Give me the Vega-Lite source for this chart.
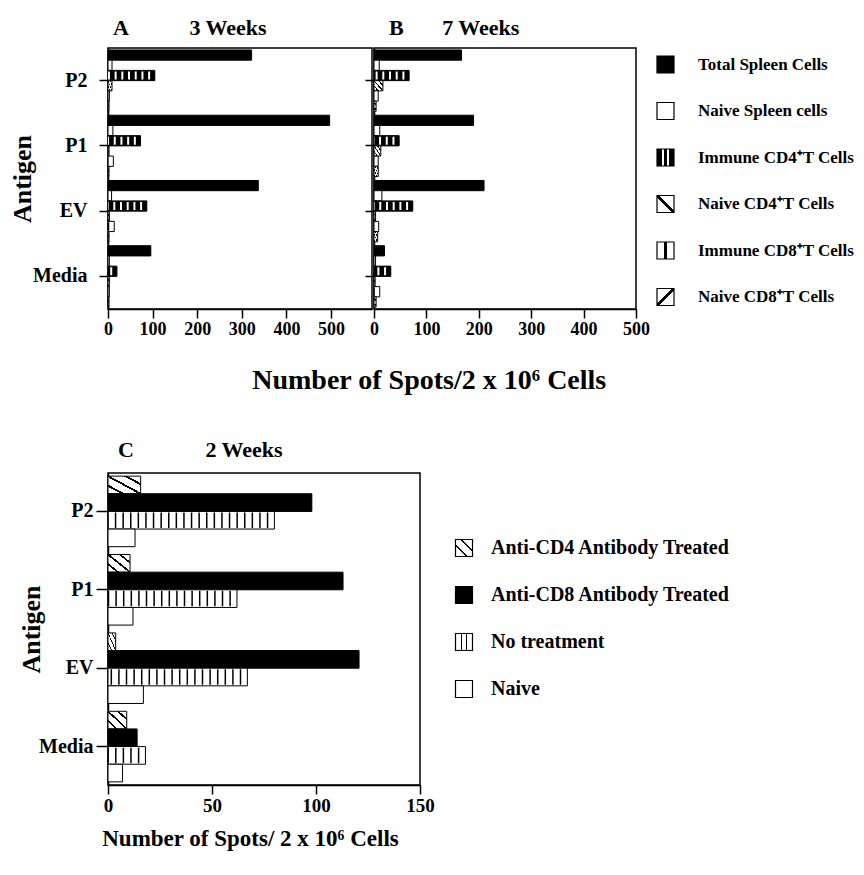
{
  "$schema": "https://vega.github.io/schema/vega-lite/v6.json",
  "padding": {"left": 8, "top": 16, "right": 5, "bottom": 5},
  "background": "white",
  "config": {
    "font": "Liberation Serif",
    "view": {"stroke": "black", "strokeWidth": 1.5},
    "axis": {"labelFont": "Liberation Serif", "titleFont": "Liberation Serif", "labelFontWeight": "bold", "titleFontWeight": "bold", "labelColor": "black", "titleColor": "black", "domainColor": "black", "tickColor": "black", "domainWidth": 1.5, "tickWidth": 1.5, "grid": false, "labelFlush": false, "labelOverlap": false},
    "legend": {"labelFont": "Liberation Serif", "labelFontWeight": "bold", "labelColor": "black"},
    "title": {"font": "Liberation Serif", "fontWeight": "bold", "color": "black"}
  },
  "datasets": {
    "top": [
      {"panel": "A", "antigen": "P2", "series": "Total Spleen Cells", "v": 322},
      {"panel": "A", "antigen": "P2", "series": "Naive Spleen cells", "v": 9},
      {"panel": "A", "antigen": "P2", "series": "Immune CD4\u207aT Cells", "v": 105},
      {"panel": "A", "antigen": "P2", "series": "Naive CD4\u207aT Cells", "v": 9},
      {"panel": "A", "antigen": "P2", "series": "Immune CD8\u207aT Cells", "v": 3},
      {"panel": "A", "antigen": "P2", "series": "Naive CD8\u207aT Cells", "v": 2},
      {"panel": "A", "antigen": "P1", "series": "Total Spleen Cells", "v": 497},
      {"panel": "A", "antigen": "P1", "series": "Naive Spleen cells", "v": 11},
      {"panel": "A", "antigen": "P1", "series": "Immune CD4\u207aT Cells", "v": 73},
      {"panel": "A", "antigen": "P1", "series": "Naive CD4\u207aT Cells", "v": 2},
      {"panel": "A", "antigen": "P1", "series": "Immune CD8\u207aT Cells", "v": 12},
      {"panel": "A", "antigen": "P1", "series": "Naive CD8\u207aT Cells", "v": 2},
      {"panel": "A", "antigen": "EV", "series": "Total Spleen Cells", "v": 337},
      {"panel": "A", "antigen": "EV", "series": "Naive Spleen cells", "v": 8},
      {"panel": "A", "antigen": "EV", "series": "Immune CD4\u207aT Cells", "v": 87},
      {"panel": "A", "antigen": "EV", "series": "Naive CD4\u207aT Cells", "v": 3},
      {"panel": "A", "antigen": "EV", "series": "Immune CD8\u207aT Cells", "v": 14},
      {"panel": "A", "antigen": "EV", "series": "Naive CD8\u207aT Cells", "v": 2},
      {"panel": "A", "antigen": "Media", "series": "Total Spleen Cells", "v": 96},
      {"panel": "A", "antigen": "Media", "series": "Naive Spleen cells", "v": 3},
      {"panel": "A", "antigen": "Media", "series": "Immune CD4\u207aT Cells", "v": 20},
      {"panel": "A", "antigen": "Media", "series": "Naive CD4\u207aT Cells", "v": 3},
      {"panel": "A", "antigen": "Media", "series": "Immune CD8\u207aT Cells", "v": 3},
      {"panel": "A", "antigen": "Media", "series": "Naive CD8\u207aT Cells", "v": 2},
      {"panel": "B", "antigen": "P2", "series": "Total Spleen Cells", "v": 167},
      {"panel": "B", "antigen": "P2", "series": "Naive Spleen cells", "v": 10},
      {"panel": "B", "antigen": "P2", "series": "Immune CD4\u207aT Cells", "v": 67},
      {"panel": "B", "antigen": "P2", "series": "Naive CD4\u207aT Cells", "v": 17},
      {"panel": "B", "antigen": "P2", "series": "Immune CD8\u207aT Cells", "v": 8},
      {"panel": "B", "antigen": "P2", "series": "Naive CD8\u207aT Cells", "v": 4},
      {"panel": "B", "antigen": "P1", "series": "Total Spleen Cells", "v": 190},
      {"panel": "B", "antigen": "P1", "series": "Naive Spleen cells", "v": 11},
      {"panel": "B", "antigen": "P1", "series": "Immune CD4\u207aT Cells", "v": 48},
      {"panel": "B", "antigen": "P1", "series": "Naive CD4\u207aT Cells", "v": 13},
      {"panel": "B", "antigen": "P1", "series": "Immune CD8\u207aT Cells", "v": 8},
      {"panel": "B", "antigen": "P1", "series": "Naive CD8\u207aT Cells", "v": 8},
      {"panel": "B", "antigen": "EV", "series": "Total Spleen Cells", "v": 210},
      {"panel": "B", "antigen": "EV", "series": "Naive Spleen cells", "v": 15},
      {"panel": "B", "antigen": "EV", "series": "Immune CD4\u207aT Cells", "v": 74},
      {"panel": "B", "antigen": "EV", "series": "Naive CD4\u207aT Cells", "v": 3},
      {"panel": "B", "antigen": "EV", "series": "Immune CD8\u207aT Cells", "v": 9},
      {"panel": "B", "antigen": "EV", "series": "Naive CD8\u207aT Cells", "v": 7},
      {"panel": "B", "antigen": "Media", "series": "Total Spleen Cells", "v": 20},
      {"panel": "B", "antigen": "Media", "series": "Naive Spleen cells", "v": 3},
      {"panel": "B", "antigen": "Media", "series": "Immune CD4\u207aT Cells", "v": 32},
      {"panel": "B", "antigen": "Media", "series": "Naive CD4\u207aT Cells", "v": 2},
      {"panel": "B", "antigen": "Media", "series": "Immune CD8\u207aT Cells", "v": 11},
      {"panel": "B", "antigen": "Media", "series": "Naive CD8\u207aT Cells", "v": 4}
    ],
    "bottom": [
      {"antigen": "P2", "series": "Anti-CD4 Antibody Treated", "v": 15.7},
      {"antigen": "P2", "series": "Anti-CD8 Antibody Treated", "v": 98},
      {"antigen": "P2", "series": "No treatment", "v": 80},
      {"antigen": "P2", "series": "Naive", "v": 13},
      {"antigen": "P1", "series": "Anti-CD4 Antibody Treated", "v": 10.6},
      {"antigen": "P1", "series": "Anti-CD8 Antibody Treated", "v": 113},
      {"antigen": "P1", "series": "No treatment", "v": 62},
      {"antigen": "P1", "series": "Naive", "v": 12},
      {"antigen": "EV", "series": "Anti-CD4 Antibody Treated", "v": 3.7},
      {"antigen": "EV", "series": "Anti-CD8 Antibody Treated", "v": 120.7},
      {"antigen": "EV", "series": "No treatment", "v": 67},
      {"antigen": "EV", "series": "Naive", "v": 17},
      {"antigen": "Media", "series": "Anti-CD4 Antibody Treated", "v": 9},
      {"antigen": "Media", "series": "Anti-CD8 Antibody Treated", "v": 14},
      {"antigen": "Media", "series": "No treatment", "v": 18},
      {"antigen": "Media", "series": "Naive", "v": 7}
    ]
  },
  "spacing": 42,
  "resolve": {"scale": {"x": "independent", "y": "independent", "yOffset": "independent", "fill": "independent"}, "legend": {"fill": "independent"}, "axis": {"x": "independent", "y": "independent"}},
  "vconcat": [
    {
      "title": {"text": "Number of Spots/2 x 10\u2076 Cells", "orient": "bottom", "anchor": "start", "frame": "bounds", "dx": 244, "offset": 28, "fontSize": 28},
      "hconcat": [
        {
          "width": 264, "height": 261,
          "title": {"text": "A\u00a0\u00a0\u00a0\u00a0\u00a0\u00a0\u00a0\u00a0\u00a0\u00a0\u00a03 Weeks", "anchor": "start", "frame": "group", "dx": 5, "offset": -14, "baseline": "bottom", "fontSize": 22},
          "data": {"name": "top"},
          "transform": [{"filter": "datum.panel === 'A'"}],
          "encoding": {
            "y": {"field": "antigen", "type": "nominal", "scale": {"domain": ["P2", "P1", "EV", "Media"], "paddingInner": 0.06, "paddingOuter": 0.03},
                  "axis": {"title": "Antigen", "titleFontSize": 26, "titleX": -86, "titleY": 130.5, "titleAngle": 270, "titleBaseline": "middle", "titleAlign": "center", "labelFontSize": 20, "tickSize": 9, "labelPadding": 12}},
            "yOffset": {"field": "series", "type": "nominal", "scale": {"domain": ["Total Spleen Cells", "Naive Spleen cells", "Immune CD4\u207aT Cells", "Naive CD4\u207aT Cells", "Immune CD8\u207aT Cells", "Naive CD8\u207aT Cells"], "paddingInner": 0, "paddingOuter": 0}},
            "x": {"field": "v", "type": "quantitative", "scale": {"domain": [0, 592], "nice": false}, "axis": {"values": [0, 100, 200, 300, 400, 500], "title": null, "labelFontSize": 18, "tickSize": 9, "labelPadding": 2}}
          },
          "layer": [
            {
              "mark": {"type": "bar", "stroke": "black", "strokeWidth": 1},
              "encoding": {
                "fill": {"field": "series", "type": "nominal",
                  "scale": {"domain": ["Total Spleen Cells", "Naive Spleen cells", "Immune CD4\u207aT Cells", "Naive CD4\u207aT Cells", "Immune CD8\u207aT Cells", "Naive CD8\u207aT Cells"],
                    "range": ["black", "white",
                      {"expr": "{gradient:'linear',x1:0,y1:0,x2:1,y2:0,stops:[{offset:0,color:'black'},{offset:0.3,color:'black'},{offset:0.3,color:'white'},{offset:0.42,color:'white'},{offset:0.42,color:'black'},{offset:0.58,color:'black'},{offset:0.58,color:'white'},{offset:0.7,color:'white'},{offset:0.7,color:'black'},{offset:1,color:'black'}]}"},
                      {"expr": "{gradient:'linear',x1:0,y1:1,x2:1,y2:0,stops:[{offset:0,color:'white'},{offset:0.45,color:'white'},{offset:0.45,color:'black'},{offset:0.55,color:'black'},{offset:0.55,color:'white'},{offset:1,color:'white'}]}"},
                      {"expr": "{gradient:'linear',x1:0,y1:0,x2:1,y2:0,stops:[{offset:0,color:'white'},{offset:0.44,color:'white'},{offset:0.44,color:'black'},{offset:0.56,color:'black'},{offset:0.56,color:'white'},{offset:1,color:'white'}]}"},
                      {"expr": "{gradient:'linear',x1:0,y1:0,x2:1,y2:1,stops:[{offset:0,color:'white'},{offset:0.45,color:'white'},{offset:0.45,color:'black'},{offset:0.55,color:'black'},{offset:0.55,color:'white'},{offset:1,color:'white'}]}"}
                    ]},
                  "condition": [
                    {"test": "datum.series === 'Immune CD4\u207aT Cells'", "value": "black"},
                    {"test": "datum.series === 'Immune CD8\u207aT Cells'", "value": "white"},
                    {"test": "datum.series === 'Naive CD4\u207aT Cells'", "value": {"gradient": "linear", "x1": 0, "y1": 1, "x2": 1, "y2": 0, "stops": [{"offset": 0, "color": "white"}, {"offset": 0.2, "color": "white"}, {"offset": 0.2, "color": "black"}, {"offset": 0.28, "color": "black"}, {"offset": 0.28, "color": "white"}, {"offset": 0.46, "color": "white"}, {"offset": 0.46, "color": "black"}, {"offset": 0.54, "color": "black"}, {"offset": 0.54, "color": "white"}, {"offset": 0.72, "color": "white"}, {"offset": 0.72, "color": "black"}, {"offset": 0.8, "color": "black"}, {"offset": 0.8, "color": "white"}, {"offset": 1, "color": "white"}]}},
                    {"test": "datum.series === 'Naive CD8\u207aT Cells'", "value": {"gradient": "linear", "x1": 0, "y1": 0, "x2": 1, "y2": 1, "stops": [{"offset": 0, "color": "white"}, {"offset": 0.2, "color": "white"}, {"offset": 0.2, "color": "black"}, {"offset": 0.28, "color": "black"}, {"offset": 0.28, "color": "white"}, {"offset": 0.46, "color": "white"}, {"offset": 0.46, "color": "black"}, {"offset": 0.54, "color": "black"}, {"offset": 0.54, "color": "white"}, {"offset": 0.72, "color": "white"}, {"offset": 0.72, "color": "black"}, {"offset": 0.8, "color": "black"}, {"offset": 0.8, "color": "white"}, {"offset": 1, "color": "white"}]}}
                  ],
                  "legend": {"orient": "none", "legendX": 548, "legendY": 7, "title": null, "symbolType": "square", "symbolSize": 289, "symbolStrokeColor": "black", "symbolStrokeWidth": 1.2, "labelFontSize": 17, "labelOffset": 23, "rowPadding": 23.5, "labelLimit": 300}
                }
              }
            },
            {
              "transform": [{"filter": "datum.series === 'Immune CD4\u207aT Cells'"}],
              "mark": {"type": "rule", "strokeWidth": 8, "strokeDash": [2, 4.7], "strokeDashOffset": 2, "strokeCap": "butt", "color": "white"},
              "encoding": {"x2": {"datum": 0}}
            },
            {
              "transform": [{"filter": "datum.series === 'Immune CD8\u207aT Cells'"}],
              "mark": {"type": "rule", "strokeWidth": 8, "strokeDash": [1.5, 5], "strokeDashOffset": 1.5, "strokeCap": "butt", "color": "black"},
              "encoding": {"x2": {"datum": 0}}
            }
          ]
        },
        {
          "width": 262, "height": 261,
          "title": {"text": "B\u00a0\u00a0\u00a0\u00a0\u00a0\u00a0\u00a07 Weeks", "anchor": "start", "frame": "group", "dx": 15, "offset": -14, "baseline": "bottom", "fontSize": 22},
          "data": {"name": "top"},
          "transform": [{"filter": "datum.panel === 'B'"}],
          "encoding": {
            "y": {"field": "antigen", "type": "nominal", "scale": {"domain": ["P2", "P1", "EV", "Media"], "paddingInner": 0.06, "paddingOuter": 0.03},
                  "axis": {"title": null, "labels": false, "tickSize": 9}},
            "yOffset": {"field": "series", "type": "nominal", "scale": {"domain": ["Total Spleen Cells", "Naive Spleen cells", "Immune CD4\u207aT Cells", "Naive CD4\u207aT Cells", "Immune CD8\u207aT Cells", "Naive CD8\u207aT Cells"], "paddingInner": 0, "paddingOuter": 0}},
            "x": {"field": "v", "type": "quantitative", "scale": {"domain": [0, 500], "nice": false}, "axis": {"values": [0, 100, 200, 300, 400, 500], "title": null, "labelFontSize": 18, "tickSize": 9, "labelPadding": 2}}
          },
          "layer": [
            {
              "mark": {"type": "bar", "stroke": "black", "strokeWidth": 1},
              "encoding": {
                "fill": {"field": "series", "type": "nominal",
                  "condition": [
                    {"test": "datum.series === 'Immune CD4\u207aT Cells'", "value": "black"},
                    {"test": "datum.series === 'Immune CD8\u207aT Cells'", "value": "white"},
                    {"test": "datum.series === 'Naive CD4\u207aT Cells'", "value": {"gradient": "linear", "x1": 0, "y1": 1, "x2": 1, "y2": 0, "stops": [{"offset": 0, "color": "white"}, {"offset": 0.2, "color": "white"}, {"offset": 0.2, "color": "black"}, {"offset": 0.28, "color": "black"}, {"offset": 0.28, "color": "white"}, {"offset": 0.46, "color": "white"}, {"offset": 0.46, "color": "black"}, {"offset": 0.54, "color": "black"}, {"offset": 0.54, "color": "white"}, {"offset": 0.72, "color": "white"}, {"offset": 0.72, "color": "black"}, {"offset": 0.8, "color": "black"}, {"offset": 0.8, "color": "white"}, {"offset": 1, "color": "white"}]}},
                    {"test": "datum.series === 'Naive CD8\u207aT Cells'", "value": {"gradient": "linear", "x1": 0, "y1": 0, "x2": 1, "y2": 1, "stops": [{"offset": 0, "color": "white"}, {"offset": 0.2, "color": "white"}, {"offset": 0.2, "color": "black"}, {"offset": 0.28, "color": "black"}, {"offset": 0.28, "color": "white"}, {"offset": 0.46, "color": "white"}, {"offset": 0.46, "color": "black"}, {"offset": 0.54, "color": "black"}, {"offset": 0.54, "color": "white"}, {"offset": 0.72, "color": "white"}, {"offset": 0.72, "color": "black"}, {"offset": 0.8, "color": "black"}, {"offset": 0.8, "color": "white"}, {"offset": 1, "color": "white"}]}}
                  ]
                }
              }
            },
            {
              "transform": [{"filter": "datum.series === 'Immune CD4\u207aT Cells'"}],
              "mark": {"type": "rule", "strokeWidth": 8, "strokeDash": [2, 4.7], "strokeDashOffset": 2, "strokeCap": "butt", "color": "white"},
              "encoding": {"x2": {"datum": 0}}
            },
            {
              "transform": [{"filter": "datum.series === 'Immune CD8\u207aT Cells'"}],
              "mark": {"type": "rule", "strokeWidth": 8, "strokeDash": [1.5, 5], "strokeDashOffset": 1.5, "strokeCap": "butt", "color": "black"},
              "encoding": {"x2": {"datum": 0}}
            }
          ]
        }
      ],
      "spacing": -10,
      "resolve": {"scale": {"x": "independent"}, "axis": {"x": "independent", "y": "independent"}}
    },
    {
      "hconcat": [
        {
          "width": 312, "height": 312,
          "title": {"text": "C\u00a0\u00a0\u00a0\u00a0\u00a0\u00a0\u00a0\u00a0\u00a0\u00a0\u00a0\u00a0\u00a02 Weeks", "anchor": "start", "frame": "group", "dx": 10, "offset": -10.5, "baseline": "bottom", "fontSize": 22},
          "data": {"name": "bottom"},
          "encoding": {
            "y": {"field": "antigen", "type": "nominal", "scale": {"domain": ["P2", "P1", "EV", "Media"], "paddingInner": 0.1, "paddingOuter": 0.04},
                  "axis": {"title": "Antigen", "titleFontSize": 26, "titleX": -77, "titleY": 156, "titleAngle": 270, "titleBaseline": "middle", "titleAlign": "center", "labelFontSize": 20, "tickSize": 12, "labelPadding": 3}},
            "yOffset": {"field": "series", "type": "nominal", "scale": {"domain": ["Anti-CD4 Antibody Treated", "Anti-CD8 Antibody Treated", "No treatment", "Naive"], "paddingInner": 0, "paddingOuter": 0}},
            "x": {"field": "v", "type": "quantitative", "scale": {"domain": [0, 150], "nice": false}, "axis": {"values": [0, 50, 100, 150], "title": "Number of Spots/ 2 x 10\u2076 Cells", "titleFontSize": 23, "titleX": 142, "titleY": 60, "titleBaseline": "alphabetic", "titleAlign": "center", "labelFontSize": 19, "tickSize": 9, "labelPadding": 2}}
          },
          "layer": [
            {
              "mark": {"type": "bar", "stroke": "black", "strokeWidth": 1},
              "encoding": {
                "fill": {"field": "series", "type": "nominal",
                  "scale": {"domain": ["Anti-CD4 Antibody Treated", "Anti-CD8 Antibody Treated", "No treatment", "Naive"],
                    "range": [
                      {"expr": "{gradient:'linear',x1:0,y1:1,x2:1,y2:0,stops:[{offset:0,color:'white'},{offset:0.3,color:'white'},{offset:0.3,color:'black'},{offset:0.38,color:'black'},{offset:0.38,color:'white'},{offset:0.62,color:'white'},{offset:0.62,color:'black'},{offset:0.7,color:'black'},{offset:0.7,color:'white'},{offset:1,color:'white'}]}"},
                      "black",
                      {"expr": "{gradient:'linear',x1:0,y1:0,x2:1,y2:0,stops:[{offset:0,color:'white'},{offset:0.3,color:'white'},{offset:0.3,color:'black'},{offset:0.38,color:'black'},{offset:0.38,color:'white'},{offset:0.62,color:'white'},{offset:0.62,color:'black'},{offset:0.7,color:'black'},{offset:0.7,color:'white'},{offset:1,color:'white'}]}"},
                      "white"
                    ]},
                  "condition": [
                    {"test": "datum.series === 'No treatment'", "value": "white"},
                    {"test": "datum.series === 'Anti-CD4 Antibody Treated'", "value": {"gradient": "linear", "x1": 0, "y1": 1, "x2": 1, "y2": 0, "stops": [{"offset": 0, "color": "white"}, {"offset": 0.2, "color": "white"}, {"offset": 0.2, "color": "black"}, {"offset": 0.26, "color": "black"}, {"offset": 0.26, "color": "white"}, {"offset": 0.47, "color": "white"}, {"offset": 0.47, "color": "black"}, {"offset": 0.53, "color": "black"}, {"offset": 0.53, "color": "white"}, {"offset": 0.74, "color": "white"}, {"offset": 0.74, "color": "black"}, {"offset": 0.8, "color": "black"}, {"offset": 0.8, "color": "white"}, {"offset": 1, "color": "white"}]}}
                  ],
                  "legend": {"orient": "none", "legendX": 346, "legendY": 65, "title": null, "symbolType": "square", "symbolSize": 289, "symbolStrokeColor": "black", "symbolStrokeWidth": 1.2, "labelFontSize": 20, "labelOffset": 17, "rowPadding": 25, "labelLimit": 400}
                }
              }
            },
            {
              "transform": [{"filter": "datum.series === 'No treatment'"}],
              "mark": {"type": "rule", "strokeWidth": 15.5, "strokeDash": [1.5, 6.1], "strokeDashOffset": 1.5, "strokeCap": "butt", "color": "black"},
              "encoding": {"x2": {"datum": 0}}
            }
          ]
        }
      ],
      "resolve": {"scale": {"fill": "independent"}, "legend": {"fill": "independent"}}
    }
  ]
}
